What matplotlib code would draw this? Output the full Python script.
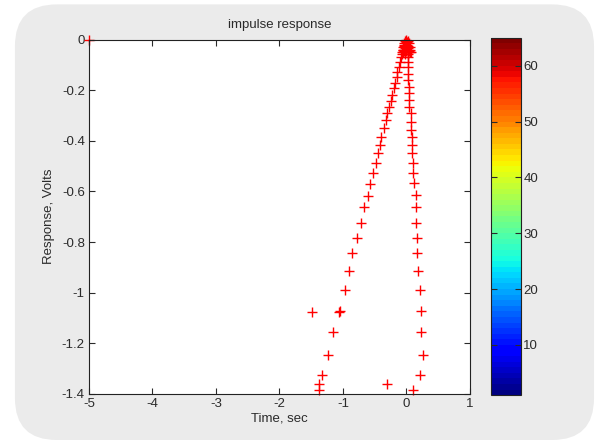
import matplotlib
matplotlib.use("Agg")
import matplotlib.pyplot as plt
import numpy as np
from matplotlib.colors import ListedColormap, Normalize
from matplotlib.cm import ScalarMappable
from matplotlib.patches import FancyBboxPatch

# points
left_x = [-0.03, -0.05, -0.07, -0.09, -0.10, -0.12, -0.14, -0.15, -0.18, -0.19,
          -0.22, -0.24, -0.27, -0.30, -0.32, -0.35, -0.40, -0.42, -0.45, -0.48,
          -0.52, -0.57, -0.61, -0.67, -0.71, -0.78, -0.85, -0.91, -0.97, -1.05,
          -1.06, -1.15, -1.24, -1.33, -1.37, -1.38]
left_y = [-0.02, -0.04, -0.055, -0.068, -0.088, -0.107, -0.127, -0.147, -0.171, -0.193,
          -0.219, -0.243, -0.268, -0.291, -0.318, -0.351, -0.384, -0.417, -0.449, -0.489,
          -0.528, -0.571, -0.617, -0.663, -0.725, -0.783, -0.844, -0.915, -0.99, -1.072,
          -1.076, -1.154, -1.245, -1.326, -1.362, -1.384]

right_x = [0.01, 0.02, 0.02, 0.02, 0.02, 0.02, 0.02, 0.04, 0.04, 0.04,
           0.04, 0.07, 0.07, 0.07, 0.09, 0.09, 0.09, 0.11, 0.11, 0.12,
           0.15, 0.155, 0.155, 0.165, 0.175, 0.18, 0.21, 0.23, 0.23, 0.26, 0.21]
right_y = [-0.03, -0.05, -0.068, -0.088, -0.107, -0.134, -0.16, -0.186, -0.212, -0.239,
           -0.265, -0.291, -0.325, -0.357, -0.384, -0.417, -0.449, -0.489, -0.528, -0.568,
           -0.614, -0.663, -0.725, -0.783, -0.844, -0.915, -0.99, -1.071, -1.154, -1.245, -1.326]

# dense cluster at the top
blob_x = [0.0, -0.02, 0.02, -0.04, 0.04, -0.01, 0.01, -0.03, 0.03, -0.05, 0.05,
          -0.06, 0.06, -0.02, 0.02, 0.0, -0.04, 0.04, -0.07, 0.07, -0.01, 0.01,
          -0.03, 0.03, -0.05, 0.05, 0.0, -0.02, 0.02]
blob_y = [0.0, -0.005, -0.005, -0.015, -0.015, -0.01, -0.01, -0.025, -0.025, -0.03, -0.03,
          -0.04, -0.04, -0.035, -0.035, -0.045, -0.045, -0.045, -0.05, -0.05, -0.02, -0.02,
          -0.04, -0.04, -0.05, -0.05, -0.025, -0.055, -0.055]

# stray points
extra_x = [-5.0, -1.48, -0.31, 0.10]
extra_y = [0.0, -1.076, -1.362, -1.384]

plt.rcParams['font.family'] = ['Liberation Sans', 'DejaVu Sans']
plt.rcParams['font.size'] = 9.5
plt.rcParams['axes.unicode_minus'] = False

fig = plt.figure(figsize=(5.97, 4.40), dpi=100, facecolor='white')
bg = FancyBboxPatch((0.025, 0.0), 0.97, 0.99, boxstyle="round,pad=0,rounding_size=0.07",
                    transform=fig.transFigure, facecolor='#ebebeb', edgecolor='none',
                    mutation_aspect=597/440, zorder=-10)
fig.patches.append(bg)

ax = fig.add_axes([0.149, 0.105, 0.638, 0.805])
ax.set_facecolor('white')
for xs, ys in [(blob_x, blob_y), (left_x, left_y), (right_x, right_y), (extra_x, extra_y)]:
    ax.plot(xs, ys, '+', color='red', ms=7, mew=1.0, clip_on=False)

ax.set_xlim(-5, 1)
ax.set_ylim(-1.4, 0)
ax.set_xticks(np.arange(-5, 2, 1))
ax.set_yticks(np.arange(-1.4, 0.01, 0.2))
ax.set_yticklabels(['-1.4', '-1.2', '-1', '-0.8', '-0.6', '-0.4', '-0.2', '0'])
ax.tick_params(direction='in', top=True, right=True, length=4, width=0.8, pad=3,
               colors='#2a2a2a', labelsize=9.5)
for s in ax.spines.values():
    s.set_color('#222222')
    s.set_linewidth(0.8)
ax.set_title('impulse response', fontsize=9.5, pad=8, color='#2a2a2a')
ax.set_xlabel('Time, sec', fontsize=9.5, labelpad=2, color='#2a2a2a')
ax.set_ylabel('Response, Volts', fontsize=9.5, labelpad=5, color='#2a2a2a')

cax = fig.add_axes([0.823, 0.102, 0.049, 0.812])
jet64 = ListedColormap(plt.get_cmap('jet')(np.linspace(0, 1, 64)))
cb = fig.colorbar(ScalarMappable(norm=Normalize(1, 65), cmap=jet64), cax=cax)
cb.set_ticks([10, 20, 30, 40, 50, 60])
cax.tick_params(direction='in', left=True, right=True, length=4, width=0.8, pad=2,
                colors='#2a2a2a', labelsize=9.5)
cb.outline.set_edgecolor('#222222')
cb.outline.set_linewidth(0.8)

fig.savefig('out.png', dpi=100, facecolor=fig.get_facecolor())
